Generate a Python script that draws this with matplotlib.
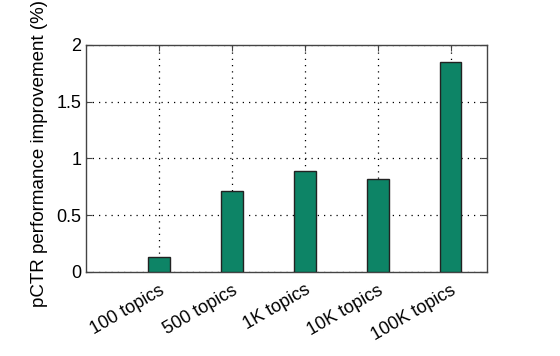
import matplotlib.pyplot as plt

plt.rcParams['font.family'] = ['Liberation Sans', 'DejaVu Sans']

labels = ['100 topics', '500 topics', '1K topics', '10K topics', '100K topics']
improvement = [0.13, 0.71, 0.89, 0.82, 1.85]

fig = plt.figure(figsize=(5.6, 3.56), dpi=100)
ax = fig.add_axes([0.1536, 0.236, 0.716, 0.6376])

pos = list(range(1, len(labels) + 1))
ax.bar(pos, improvement, width=0.3, color='#0d8466', edgecolor='#222222', linewidth=1.0, zorder=3)

ax.set_xlim(0, 5.5)
ax.set_ylim(0, 2)
ax.set_xticks(pos)
ax.set_xticklabels(labels, rotation=30, ha='right', rotation_mode='anchor', fontsize=13)
ax.set_yticks([0, 0.5, 1, 1.5, 2])
ax.set_yticklabels(['0', '0.5', '1', '1.5', '2'], fontsize=13)
ax.set_ylabel('pCTR performance improvement (%)', fontsize=13.5)
ax.yaxis.set_label_coords(-0.095, 0.52)

ax.grid(True, linestyle=(0, (1, 4)), color='black', linewidth=0.9, zorder=0)
ax.tick_params(direction='in', top=True, right=True, length=4, color='#444444')
ax.tick_params(axis='x', pad=7)
for s in ax.spines.values():
    s.set_color('#444444')
    s.set_linewidth(1.0)

fig.savefig('out.png', dpi=100)
